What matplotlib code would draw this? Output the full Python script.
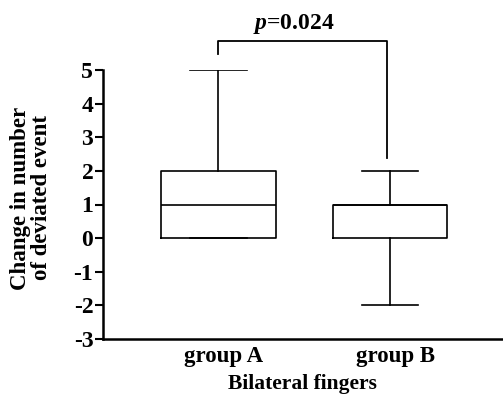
import matplotlib
matplotlib.use("Agg")
import matplotlib.pyplot as plt

plt.rcParams["font.family"] = ["Liberation Serif", "DejaVu Serif"]
plt.rcParams["font.weight"] = "bold"
plt.rcParams["mathtext.fontset"] = "custom"
plt.rcParams["mathtext.it"] = "Liberation Serif:italic:bold"
plt.rcParams["mathtext.rm"] = "Liberation Serif:bold"

# box statistics
groups = ["group A", "group B"]
whisker_low = [0, -2]
q1 = [0, 0]
median = [1, 1]
q3 = [2, 1]
whisker_high = [5, 2]
p_text = "$p$=0.024"
yticks = [-3, -2, -1, 0, 1, 2, 3, 4, 5]

stats = []
for i in range(len(groups)):
    stats.append({"label": groups[i], "whislo": whisker_low[i], "q1": q1[i],
                  "med": median[i], "q3": q3[i], "whishi": whisker_high[i],
                  "fliers": []})

fig = plt.figure(figsize=(5.03, 3.94), dpi=100)
ax = fig.add_axes([103 / 503, 55 / 394, 399 / 503, 269 / 394])

line = dict(color="black", linewidth=1.2)
ax.bxp(stats, positions=[1, 2], widths=0.67, capwidths=0.33, showfliers=False,
       boxprops=line, whiskerprops=line, capprops=line,
       medianprops=dict(color="black", linewidth=1.2))

ax.set_xlim(0.327, 2.653)
ax.set_ylim(-3, 5)
ax.set_yticks(yticks)
ax.set_yticklabels([str(t) for t in yticks], fontsize=17, fontweight="bold")
ax.set_xticks([1.03, 2.03])
ax.set_xticklabels(groups, fontsize=16.5, fontweight="bold")
ax.tick_params(axis="x", length=0, pad=5)
ax.tick_params(axis="y", length=6, width=1.5, pad=1)
for side in ["top", "right"]:
    ax.spines[side].set_visible(False)
for side in ["left", "bottom"]:
    ax.spines[side].set_linewidth(1.8)

ax.set_xlabel("Bilateral fingers", fontsize=15.5, fontweight="bold", labelpad=5)
fig.text(31 / 503, 1 - 198 / 394, "Change in number\nof deviated event",
         rotation=90, ha="center", va="center", multialignment="center",
         fontsize=16.5, fontweight="bold", linespacing=0.95)

# significance bracket
ax.plot([1, 1, 1.98, 1.98], [5.48, 5.86, 5.86, 2.38], color="black",
        linewidth=1.3, clip_on=False)
ax.text(1.44, 6.0, p_text, ha="center", va="bottom", fontsize=17,
        fontweight="bold", clip_on=False)

fig.savefig("out.png", dpi=100)
